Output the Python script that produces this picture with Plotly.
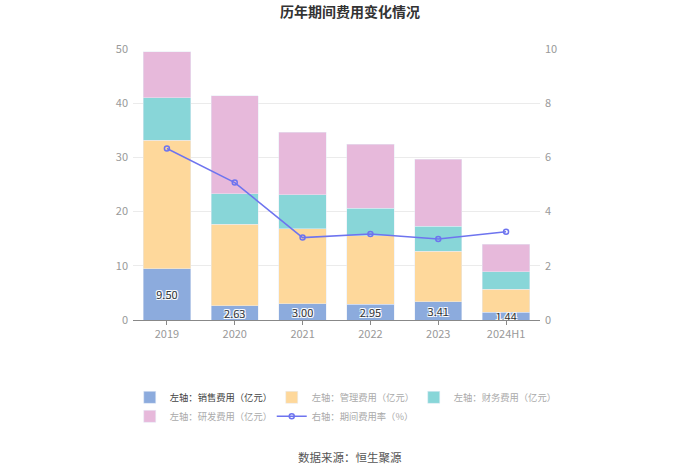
import plotly.graph_objects as go

categories = ["2019", "2020", "2021", "2022", "2023", "2024H1"]
sales = [9.50, 2.63, 3.00, 2.95, 3.41, 1.44]
admin = [23.7, 15.07, 13.85, 12.55, 9.26, 4.22]
finance = [7.8, 5.55, 6.25, 5.16, 4.67, 3.26]
rnd = [8.5, 18.15, 11.5, 11.74, 12.31, 5.10]
rate = [6.33, 5.07, 3.04, 3.17, 2.99, 3.26]

FONT = "Noto Sans CJK SC"
label_font = dict(family=FONT, size=11, color="#333",
                  shadow="-1px -1px 0 #fff, 1px -1px 0 #fff, -1px 1px 0 #fff, 1px 1px 0 #fff")

fig = go.Figure()
fig.add_trace(go.Bar(x=categories, y=sales, name="<span style='color:#444'>左轴：销售费用（亿元）</span>",
                     marker_color="#8cabdd", text=[f"{v:.2f}" for v in sales],
                     textposition="inside", insidetextanchor="middle", textangle=0,
                     constraintext="none", textfont=label_font))
fig.add_trace(go.Bar(x=categories, y=admin, name="左轴：管理费用（亿元）", marker_color="#fed89b"))
fig.add_trace(go.Bar(x=categories, y=finance, name="左轴：财务费用（亿元）", marker_color="#88d6d8"))
fig.add_trace(go.Bar(x=categories, y=rnd, name="左轴：研发费用（亿元）", marker_color="#e7b9db"))
fig.add_trace(go.Scatter(x=categories, y=rate, name="右轴：期间费用率（%）", yaxis="y2",
                         mode="lines+markers", line=dict(color="#6e74ef", width=1.5),
                         marker=dict(symbol="circle-open", size=5, color="#6e74ef", line=dict(width=1.5))))

fig.update_layout(
    width=700, height=474,
    barmode="stack", bargap=0.3,
    paper_bgcolor="white", plot_bgcolor="white",
    margin=dict(l=133, r=160, t=49, b=154),
    font=dict(family=FONT, size=11, color="#999"),
    title=dict(text="<b>历年期间费用变化情况</b>", x=0.5, xanchor="center", y=0.975, yanchor="middle",
               font=dict(family=FONT, size=14, color="#333")),
    xaxis=dict(showline=True, linecolor="#888", linewidth=1, ticks="outside", ticklen=4,
               tickcolor="#888", tickfont=dict(color="#999", size=11)),
    yaxis=dict(range=[0, 50], dtick=10, showgrid=True, gridcolor="#ebebeb", zeroline=False,
               tickfont=dict(color="#999", size=11), ticklabelstandoff=4),
    yaxis2=dict(range=[0, 10], dtick=2, overlaying="y", side="right", showgrid=False,
                zeroline=False, tickfont=dict(color="#999", size=11), ticklabelstandoff=4),
    legend=dict(orientation="h", x=-0.008, xanchor="left", y=-0.232, yanchor="top",
                entrywidth=97, font=dict(color="#aaa", size=9.3),
                itemwidth=30, traceorder="normal"),
    showlegend=True,
    annotations=[dict(text="数据来源：恒生聚源", x=0.533, xref="paper", xanchor="center",
                      y=-0.506, yref="paper", yanchor="middle", showarrow=False,
                      font=dict(family=FONT, size=11.5, color="#555"))],
)

fig.write_html("out.html", config={"displayModeBar": False},
               post_script="document.body.style.margin='0';")
